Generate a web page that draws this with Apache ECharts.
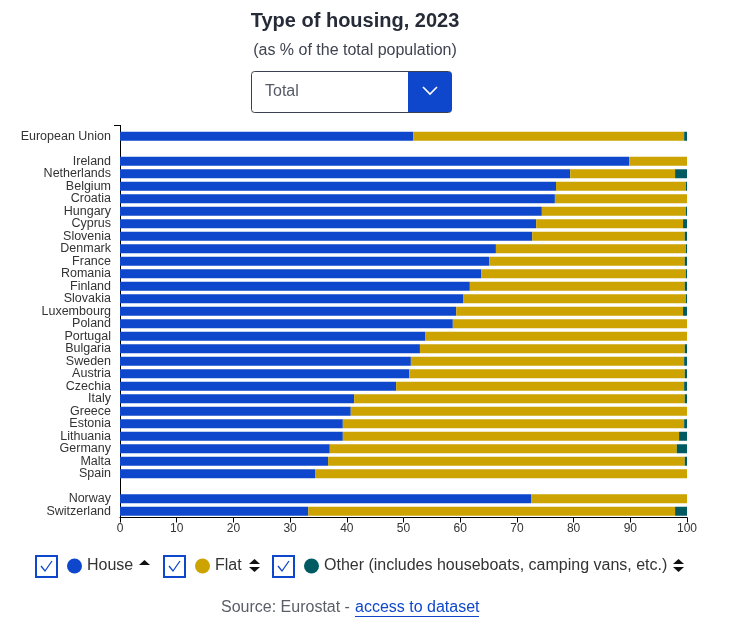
<!DOCTYPE html>
<html>
<head>
<meta charset="utf-8">
<script src="https://cdn.jsdelivr.net/npm/echarts@6/dist/echarts.min.js"></script>
<style>
  html, body { margin: 0; padding: 0; background: #fff; }
  #chart { width: 752px; height: 628px; }
</style>
</head>
<body>
<div id="chart"></div>
<script>
// categories (blank entries make the gaps between groups)
var countries = ['European Union', ' ', 'Ireland', 'Netherlands', 'Belgium', 'Croatia', 'Hungary', 'Cyprus',
    'Slovenia', 'Denmark', 'France', 'Romania', 'Finland', 'Slovakia', 'Luxembourg', 'Poland', 'Portugal',
    'Bulgaria', 'Sweden', 'Austria', 'Czechia', 'Italy', 'Greece', 'Estonia', 'Lithuania', 'Germany',
    'Malta', 'Spain', '  ', 'Norway', 'Switzerland'];

var house = [51.7, null, 89.8, 79.4, 76.9, 76.7, 74.4, 73.4, 72.7, 66.3, 65.1, 63.7, 61.7, 60.5, 59.3, 58.7,
    53.8, 52.9, 51.3, 51.0, 48.7, 41.3, 40.7, 39.3, 39.3, 37.0, 36.7, 34.4, null, 72.5, 33.2];
var flat = [47.8, null, 10.2, 18.5, 22.9, 23.3, 25.4, 25.9, 26.9, 33.5, 34.5, 36.1, 37.9, 39.3, 40.0, 41.3,
    46.2, 46.7, 48.2, 48.6, 50.8, 58.3, 59.3, 60.2, 59.3, 61.2, 62.9, 65.6, null, 27.5, 64.7];
var other = [0.5, null, 0.0, 2.1, 0.2, 0.0, 0.2, 0.7, 0.4, 0.2, 0.4, 0.2, 0.4, 0.2, 0.7, 0.0,
    0.0, 0.4, 0.5, 0.4, 0.5, 0.4, 0.0, 0.5, 1.4, 1.8, 0.4, 0.0, null, 0.0, 2.1];

var seriesNames = ['House', 'Flat', 'Other (includes houseboats, camping vans, etc.)'];
var colors = ['#0e47cb', '#cca300', '#005a61'];

var chart = echarts.init(document.getElementById('chart'));

// checkbox + sort arrow drawn next to each legend entry
function checkbox(x) {
    return [
        { type: 'rect', shape: { x: x, y: 556, width: 21, height: 21 },
          style: { fill: '#fff', stroke: '#0e47cb', lineWidth: 2 } },
        { type: 'polyline', shape: { points: [[x + 5, 566], [x + 9, 571], [x + 16, 561]] },
          style: { stroke: '#0e47cb', lineWidth: 1.3, fill: null } }
    ];
}
function upArrow(x, y) {
    return { type: 'polygon', shape: { points: [[x, y + 5], [x + 5.5, y], [x + 11, y + 5]] }, style: { fill: '#111' } };
}
function downArrow(x, y) {
    return { type: 'polygon', shape: { points: [[x, y], [x + 5.5, y + 5], [x + 11, y]] }, style: { fill: '#111' } };
}

var graphics = [
    // dropdown
    { type: 'rect', shape: { x: 251.5, y: 71.5, width: 200, height: 41, r: 3 },
      style: { fill: '#fff', stroke: '#3b4151', lineWidth: 1 } },
    { type: 'rect', shape: { x: 408, y: 72, width: 43.5, height: 40, r: [0, 2, 2, 0] },
      style: { fill: '#0e47cb' } },
    { type: 'polyline', shape: { points: [[423, 87], [430, 94], [437, 87]] },
      style: { stroke: '#fff', lineWidth: 1.6, fill: null } },
    { type: 'text', x: 265, y: 92, style: { text: 'Total', fontSize: 16, fill: '#555a66',
      fontFamily: 'Arial', verticalAlign: 'middle' } },
    // small tick at top of y axis
    { type: 'line', shape: { x1: 114, y1: 125.5, x2: 120, y2: 125.5 }, style: { stroke: '#000', lineWidth: 1 } },
    { type: 'line', shape: { x1: 120.5, y1: 125, x2: 120.5, y2: 131 }, style: { stroke: '#000', lineWidth: 1 } },
    // sort arrows
    upArrow(139, 560),
    upArrow(249, 559), downArrow(249, 567),
    upArrow(673, 559), downArrow(673, 567),
    // source line
    { type: 'text', x: 221, y: 608, style: { text: 'Source: Eurostat - ', fontSize: 16, fill: '#5a5e68',
      fontFamily: 'Arial', verticalAlign: 'middle' } },
    { type: 'text', x: 355, y: 608, style: { text: 'access to dataset', fontSize: 16, fill: '#0e47cb',
      fontFamily: 'Arial', verticalAlign: 'middle' } },
    { type: 'line', shape: { x1: 355, y1: 616.5, x2: 479, y2: 616.5 }, style: { stroke: '#0e47cb', lineWidth: 1 } }
];
[36, 164, 273].forEach(function (x) { graphics = graphics.concat(checkbox(x)); });

var legendLefts = [67, 195, 304];
var legends = seriesNames.map(function (name, i) {
    return {
        data: [name], left: legendLefts[i], top: 558, padding: 0, icon: 'circle',
        itemWidth: 15, itemHeight: 15, itemGap: 5, selectedMode: false,
        textStyle: { fontSize: 16, color: '#333', fontFamily: 'Arial', padding: [0, 0, 0, 0] }
    };
});

var data = [house, flat, other];
var option = {
    animation: false,
    textStyle: { fontFamily: 'Arial' },
    title: {
        text: 'Type of housing, 2023',
        subtext: '(as % of the total population)',
        left: 350, top: 6, textAlign: 'center', itemGap: 12,
        textStyle: { fontSize: 20, fontWeight: 'bold', color: '#262b38', fontFamily: 'Arial' },
        subtextStyle: { fontSize: 16, color: '#3e4350', fontFamily: 'Arial' }
    },
    legend: legends,
    grid: { left: 120, right: 65, top: 130, height: 387.5 },
    xAxis: {
        type: 'value', min: 0, max: 100, interval: 10,
        axisLine: { show: true, lineStyle: { color: '#000' } },
        axisTick: { show: true, length: 5, lineStyle: { color: '#000' } },
        axisLabel: { fontSize: 12, color: '#333', margin: 5 },
        splitLine: { show: false }
    },
    yAxis: {
        type: 'category', data: countries, inverse: true,
        axisLine: { show: true, lineStyle: { color: '#000' } },
        axisTick: { show: false },
        axisLabel: { fontSize: 12.5, color: '#333', margin: 9, interval: 0 }
    },
    series: seriesNames.map(function (name, i) {
        return {
            name: name, type: 'bar', stack: 'total', barWidth: 9,
            itemStyle: { color: colors[i] },
            data: data[i]
        };
    }),
    graphic: graphics
};

chart.setOption(option);

window.onresize = function () {
    chart.resize();
};
</script>
</body>
</html>
